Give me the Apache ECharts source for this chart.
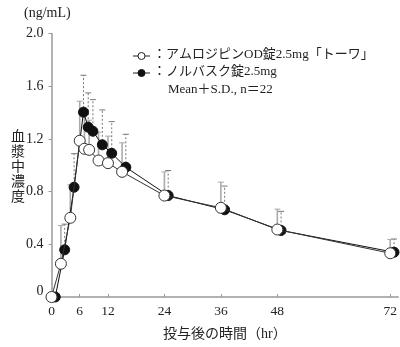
<!DOCTYPE html>
<html><head><meta charset="utf-8">
<script src="https://cdn.jsdelivr.net/npm/echarts@6/dist/echarts.min.js"></script>
<style>html,body{margin:0;padding:0;background:#fff}#c{width:400px;height:347px}</style>
</head><body><div id="c"></div>
<script>
// ---- data ----
const times = [0, 2, 4, 6, 7, 8, 10, 12, 15, 24, 36, 48, 72];
const xTickValues = [0, 6, 12, 24, 36, 48, 72];
const yTickValues = [0, 0.4, 0.8, 1.2, 1.6, 2.0];
const towaMean = [0, 0.252, 0.601, 1.186, 1.125, 1.117, 1.036, 1.016, 0.95, 0.77, 0.677, 0.512, 0.332];
const towaSD   = [0, 0.29, 0.25, 0.30, 0.275, 0.225, 0.215, 0.205, 0.22, 0.18, 0.195, 0.155, 0.105];
const norvMean = [0, 0.358, 0.833, 1.403, 1.289, 1.258, 1.155, 1.091, 0.985, 0.77, 0.662, 0.505, 0.34];
const norvSD   = [0, 0.195, 0.255, 0.28, 0.26, 0.24, 0.265, 0.24, 0.25, 0.19, 0.18, 0.145, 0.10];
const towaName = '：アムロジピンOD錠2.5mg「トーワ」';
const norvName = '：ノルバスク錠2.5mg';
const statNote = 'Mean＋S.D., n＝22';
const shift = 0.8; // horizontal display offset for second series (hours)

const FONT = "'Liberation Serif','Noto Sans CJK JP',serif";
const chart = echarts.init(document.getElementById('c'), null, {renderer: 'canvas'});

const towaPts = times.map((t, i) => [t, towaMean[i], towaSD[i]]);
const norvPts = times.map((t, i) => [t + shift, norvMean[i], norvSD[i]]);

function errBar(color, dash, width) {
  return function (params, api) {
    const x = api.value(0), m = api.value(1), sd = api.value(2);
    if (!sd) return null;
    const p0 = api.coord([x, m]), p1 = api.coord([x, m + sd]);
    const style = {stroke: color, lineWidth: width, lineDash: dash};
    return {type: 'group', children: [
      {type: 'line', shape: {x1: p0[0], y1: p0[1], x2: p1[0], y2: p1[1]}, style: style},
      {type: 'line', shape: {x1: p1[0] - 3, y1: p1[1], x2: p1[0] + 3, y2: p1[1]}, style: {stroke: color, lineWidth: 1}}
    ]};
  };
}

chart.setOption({
  animation: false,
  grid: {left: 51.5, top: 33.5, right: 0, bottom: 50},
  xAxis: {
    type: 'value', min: 0, max: 73.7,
    axisLine: {lineStyle: {color: '#999', width: 1.5}},
    axisTick: {show: true, inside: true, length: 3, customValues: xTickValues, lineStyle: {color: '#999'}},
    axisLabel: {customValues: xTickValues, color: '#222', fontFamily: FONT, fontSize: 13.5, margin: 8},
    splitLine: {show: false},
    name: '投与後の時間（hr）', nameLocation: 'middle', nameGap: 30,
    nameTextStyle: {color: '#222', fontFamily: FONT, fontSize: 14}
  },
  yAxis: {
    type: 'value', min: 0, max: 2.0, interval: 0.4,
    axisLine: {show: true, lineStyle: {color: '#999', width: 1.5}},
    axisTick: {show: true, length: 3, lineStyle: {color: '#999'}},
    axisLabel: {color: '#222', fontFamily: FONT, fontSize: 14, margin: 8,
      formatter: v => v === 0 ? '{z|0}' : v.toFixed(1),
      rich: {z: {fontFamily: FONT, fontSize: 14, color: '#222', padding: [0, 0, 12, 0]}}},
    splitLine: {show: false}
  },
  graphic: [
    {type: 'text', left: 24, top: 6, style: {text: '(ng/mL)', font: '14px ' + FONT, fill: '#222'}},
    {type: 'text', left: 11, top: 130, style: {text: '血\n漿\n中\n濃\n度', font: '14px ' + FONT, fill: '#222', lineHeight: 15}},
    {type: 'line', shape: {x1: 133, y1: 56, x2: 150, y2: 56}, style: {stroke: '#222', lineWidth: 1}},
    {type: 'circle', shape: {cx: 141.5, cy: 56, r: 3.5}, style: {fill: '#fff', stroke: '#222', lineWidth: 1}},
    {type: 'text', left: 153, top: 48, style: {text: towaName, font: '13px ' + FONT, fill: '#222'}},
    {type: 'line', shape: {x1: 133, y1: 73, x2: 150, y2: 73}, style: {stroke: '#222', lineWidth: 1}},
    {type: 'circle', shape: {cx: 141.5, cy: 73, r: 3.5}, style: {fill: '#111', stroke: '#111', lineWidth: 1}},
    {type: 'text', left: 153, top: 65, style: {text: norvName, font: '13px ' + FONT, fill: '#222'}},
    {type: 'text', left: 168, top: 83, style: {text: statNote, font: '13px ' + FONT, fill: '#222'}}
  ],
  series: [
    {type: 'custom', data: norvPts, renderItem: errBar('#777', [2, 2], 1), encode: {x: 0, y: 1}, z: 1, silent: true},
    {type: 'custom', data: towaPts, renderItem: errBar('#aaa', null, 1.6), encode: {x: 0, y: 1}, z: 2, silent: true},
    {type: 'line', data: norvPts.map(p => [p[0], p[1]]), symbol: 'circle', symbolSize: 10,
      itemStyle: {color: '#111', borderColor: '#111', borderWidth: 1},
      lineStyle: {color: '#111', width: 1}, z: 3},
    {type: 'line', data: towaPts.map(p => [p[0], p[1]]), symbol: 'circle', symbolSize: 11,
      itemStyle: {color: '#fff', borderColor: '#333', borderWidth: 1},
      lineStyle: {color: '#333', width: 1}, z: 4}
  ]
});
</script></body></html>
